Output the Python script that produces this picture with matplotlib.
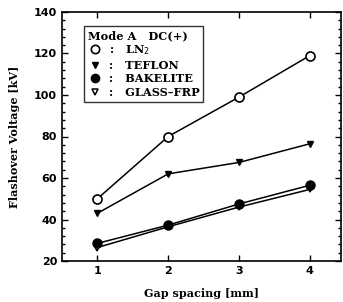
import matplotlib
matplotlib.use('Agg')
import matplotlib.pyplot as plt
from matplotlib.ticker import MultipleLocator
from matplotlib.lines import Line2D

# Data
gap = [1, 2, 3, 4]
ln2 = [50, 80, 99, 119]
teflon = [43, 62, 67.5, 76.5]
bakelite = [28.5, 37.3, 47.5, 56.5]
glass_frp = [26.5, 36.5, 46, 54.5]

labels = ['LN$_2$', 'TEFLON', 'BAKELITE', 'GLASS\u2013FRP']

fig = plt.figure(figsize=(3.43, 3.02), dpi=100)
ax = fig.add_axes([62/343, 1-261/302, 279/343, 249/302])

ax.plot(gap, ln2, '-o', color='black', lw=1.1, ms=6.5, mfc='white', mew=1.2)
ax.plot(gap, teflon, '-v', color='black', lw=1.1, ms=5, mfc='black')
ax.plot(gap, glass_frp, '-v', color='black', lw=1.1, ms=5, mfc='white', mew=1.1)
ax.plot(gap, bakelite, '-o', color='black', lw=1.1, ms=6.5, mfc='black')

ax.set_xlim(0.5, 4.44)
ax.set_ylim(20, 140)
ax.xaxis.set_major_locator(MultipleLocator(1))
ax.yaxis.set_major_locator(MultipleLocator(20))
ax.yaxis.set_minor_locator(MultipleLocator(4))
ax.tick_params(which='both', direction='in', top=True, right=True, width=1)
ax.tick_params(which='major', length=4, labelsize=8)
ax.tick_params(which='minor', length=2)
for t in ax.get_xticklabels() + ax.get_yticklabels():
    t.set_fontweight('bold')
for s in ax.spines.values():
    s.set_linewidth(1.2)

ax.set_xlabel('Gap spacing [mm]', fontsize=8, fontweight='bold',
              family='DejaVu Serif', labelpad=9)
ax.set_ylabel('Flashover Voltage [kV]', fontsize=8, fontweight='bold',
              family='DejaVu Serif', labelpad=10)

handles = [
    Line2D([], [], ls='', marker='o', color='black', mfc='white', ms=6, mew=1.2),
    Line2D([], [], ls='', marker='v', color='black', mfc='black', ms=4.5),
    Line2D([], [], ls='', marker='o', color='black', mfc='black', ms=6),
    Line2D([], [], ls='', marker='v', color='black', mfc='white', ms=4.5, mew=1.1),
]
leg = ax.legend(handles, [':   ' + l for l in labels], title='Mode A   DC(+)',
                loc='upper left', bbox_to_anchor=(0.079, 0.944),
                frameon=True, fancybox=False, edgecolor='black',
                handlelength=1.3, handletextpad=0.5, borderpad=0.35,
                labelspacing=0.22, borderaxespad=0,
                prop={'family': 'DejaVu Serif', 'weight': 'bold', 'size': 8.2},
                title_fontproperties={'family': 'DejaVu Serif', 'weight': 'bold', 'size': 8.2})
leg._legend_box.align = 'left'
leg.get_frame().set_linewidth(1.0)

fig.savefig('out.png', dpi=100)
